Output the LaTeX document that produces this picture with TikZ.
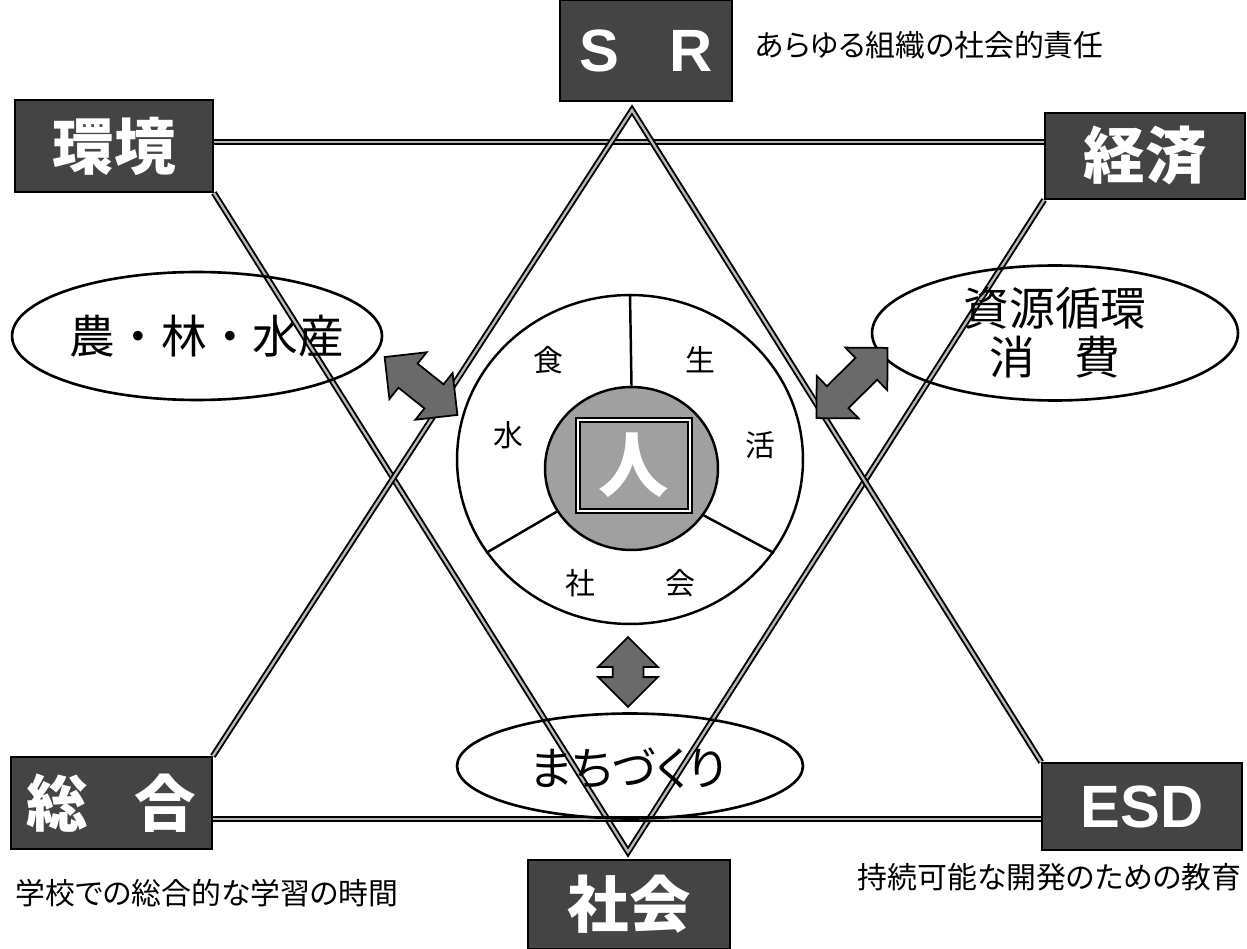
\documentclass[tikz,border=0pt]{standalone}
\usepackage{fontspec}
\setmainfont{Liberation Sans}
\newfontfamily\cjk{Noto Sans CJK JP}
\newfontfamily\cjkp{Noto Sans CJK JP}[RawFeature=+palt]
\usetikzlibrary{shapes.geometric,shapes.arrows}
\definecolor{boxgray}{HTML}{444444}
\definecolor{midgray}{HTML}{A0A0A0}
\definecolor{arrgray}{HTML}{6A6A6A}
\begin{document}
\begin{tikzpicture}[x=0.02cm,y=-0.02cm,
  darkbox/.style={draw=black, line width=1pt, fill=boxgray, text=white, inner sep=0pt,
    font=\cjk\bfseries\fontsize{35}{35}\selectfont},
  latinbox/.style={darkbox, font=\bfseries\fontsize{34}{34}\selectfont},
  link/.style={draw=black, line width=1.1pt, double=gray!55, double distance=1.3pt},
  oval/.style={draw=black, line width=1.5pt, ellipse, inner sep=0pt},
  ovaltext/.style={inner sep=0pt, align=center, font=\cjk\fontsize{26}{28}\selectfont},
  ring/.style={draw=black, line width=1.4pt, ellipse, inner sep=0pt},
  lab/.style={font=\cjk\fontsize{17}{17}\selectfont, inner sep=0pt},
  note/.style={font=\cjkp\fontsize{17}{17}\selectfont, inner sep=0pt},
  dbl/.style={double arrow, draw=black, line width=1pt, fill=arrgray, inner xsep=0pt,
    inner ysep=0.29cm, double arrow head extend=0.29cm, double arrow tip angle=90}
]
\useasboundingbox (0,0) rectangle (1247,949);
\fill[white] (0,0) rectangle (1247,949);

% boxes
\node[latinbox, minimum width=3.44cm, minimum height=2.02cm] (sr) at (646,50.5) {S\hspace{0.85em}R\hspace{0.45em}};
\node[darkbox, minimum width=3.96cm, minimum height=1.84cm] (kk) at (114,146) {環境};
\node[darkbox, minimum width=4.0cm, minimum height=1.72cm] (kz) at (1145,156) {経済};
\node[darkbox, minimum width=4.02cm, minimum height=1.84cm] (zg) at (111.5,803) {総\hspace{0.75em}合};
\node[latinbox, minimum width=4.0cm, minimum height=1.74cm] (esd) at (1142,806.5) {ESD};
\node[darkbox, minimum width=4.04cm, minimum height=1.78cm] (sk) at (629,904.5) {社会};

% annotations
\node[note, anchor=west] (srn) at (755,45) {あらゆる組織の社会的責任};
\node[note, anchor=west] (zgn) at (15,893) {学校での総合的な学習の時間};
\node[note, anchor=east] (esdn) at (1242,877) {持続可能な開発のための教育};

% triangle vertices
\coordinate (apexU) at (632,110);
\coordinate (apexD) at (628,852);
\coordinate (topline) at (0,142);
\coordinate (baseline) at (0,819);

% triangles
\draw[link] (kk.east |- topline) -- (kz.west |- topline);
\draw[link] (kk.south east) -- (apexD) -- (kz.south west);
\draw[link] (zg.east |- baseline) -- (esd.west |- baseline);
\draw[link] (zg.north east) -- (apexU) -- (esd.north west);

% ellipses
\node[oval, minimum width=7.4cm, minimum height=2.56cm] (farm) at (197,336) {};
\node[ovaltext] (farmt) at (207,336) {農・林・水産};
\node[oval, minimum width=7.32cm, minimum height=2.7cm] (res) at (1055,333) {};
\node[ovaltext] (rest) at (res.center) {資源循環\\消\hspace{0.85em}費};
\node[oval, minimum width=6.92cm, minimum height=2.1cm] (machi) at (630,766) {};
\node[ovaltext, font=\cjkp\fontsize{26}{28}\selectfont] (machit) at (628,768) {まちづくり};

% central circle
\node[ring, fill=white, minimum width=6.92cm, minimum height=6.58cm] (outer) at (630,459.5) {};
\node[ring, fill=midgray, minimum width=3.46cm, minimum height=3.26cm] (inner) at (631.5,468.5) {};
\node[draw=black, line width=1pt, double=white, double distance=1pt, fill=midgray,
  minimum width=2.24cm, minimum height=1.82cm, inner sep=0pt,
  text=white, font=\cjk\bfseries\fontsize{40}{40}\selectfont] (hito) at (634,465.5) {人};
\draw[line width=1.4pt] (outer.90) -- (inner.90);
\draw[line width=1.4pt] (outer.-147) -- (inner.-150);
\draw[line width=1.4pt] (outer.-33) -- (inner.-33);

\node[lab] (shoku) at (548,360) {食};
\node[lab] (sei) at (700,360) {生};
\node[lab] (mizu) at (508,435) {水};
\node[lab] (katsu) at (760,445) {活};
\node[lab] (sha) at (580,583) {社};
\node[lab] (kai) at (680,583) {会};

% double arrows
\node[dbl, minimum height=1.86cm, rotate=-38.5] (arL) at (421,386) {};
\node[dbl, minimum height=2.0cm, rotate=44.6] (arR) at (852,383) {};
\node[dbl, minimum height=1.4cm, rotate=90] (arD) at (628,672) {};
\end{tikzpicture}
\end{document}
